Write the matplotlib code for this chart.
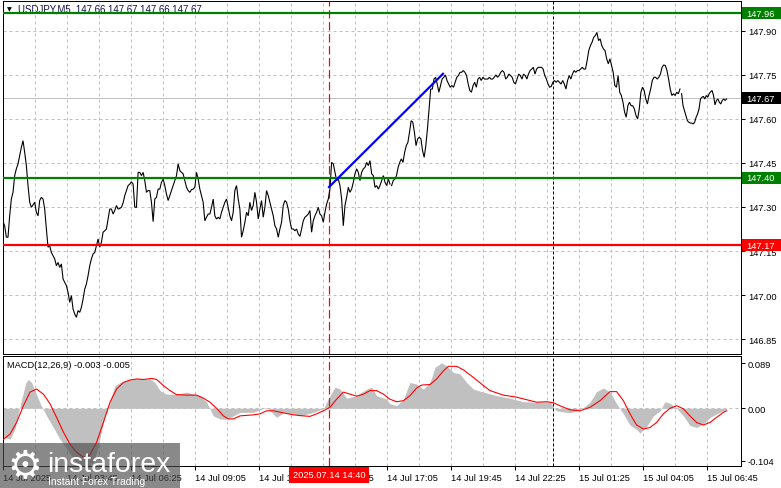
import numpy as np
import matplotlib
matplotlib.use("Agg")
import matplotlib.pyplot as plt
import matplotlib.transforms as mtransforms
from matplotlib.patches import Rectangle

plt.rcParams['font.family'] = ['Liberation Sans', 'DejaVu Sans']

# --- donnees ---
chart_title = "USDJPY,M5  147.66 147.67 147.66 147.67"
macd_title = "MACD(12,26,9) -0.003 -0.005"

# cours de cloture M5, en trois morceaux
close_part1 = [
    147.250, 147.236, 147.197, 147.197, 147.270, 147.327, 147.350, 147.407, 147.430, 147.447,
    147.475, 147.503, 147.526, 147.486, 147.441, 147.373, 147.316, 147.299, 147.307, 147.316,
    147.282, 147.270, 147.322, 147.333, 147.327, 147.293, 147.225, 147.163, 147.168, 147.145,
    147.134, 147.123, 147.100, 147.111, 147.094, 147.106, 147.055, 147.043, 147.032, 147.009,
    146.975, 146.998, 146.952, 146.935, 146.924, 146.947, 146.941, 146.958, 146.986, 147.020,
    147.038, 147.066, 147.100, 147.123, 147.140, 147.145, 147.168, 147.191, 147.163, 147.180,
    147.214, 147.219, 147.225, 147.259, 147.293, 147.293, 147.276, 147.288, 147.305, 147.293,
    147.295, 147.299, 147.314, 147.339, 147.356, 147.373, 147.378, 147.386, 147.378, 147.299,
    147.299, 147.418, 147.418, 147.407, 147.418, 147.390, 147.350, 147.356, 147.356, 147.316,
    147.250, 147.327, 147.333, 147.361, 147.361, 147.384, 147.395, 147.373, 147.344, 147.322,
    147.339, 147.356, 147.373, 147.390, 147.407, 147.447, 147.424, 147.418, 147.413, 147.390,
    147.367, 147.356, 147.350, 147.359, 147.361, 147.367, 147.418, 147.395, 147.361, 147.339,
    147.316, 147.253, 147.265, 147.276, 147.276, 147.299, 147.327, 147.270, 147.259, 147.265,
    147.259, 147.282, 147.299, 147.316, 147.327, 147.299, 147.270, 147.253, 147.282, 147.356,
    147.373, 147.327, 147.293, 147.197, 147.219, 147.248, 147.282, 147.270, 147.316, 147.288,
    147.305, 147.350, 147.316, 147.259, 147.293, 147.322, 147.265, 147.299, 147.356, 147.339,
    147.316, 147.293, 147.270, 147.236, 147.225, 147.197, 147.225, 147.248, 147.305, 147.322,
    147.316, 147.293, 147.253, 147.225, 147.225, 147.219, 147.225, 147.208, 147.200, 147.225,
    147.253, 147.265, 147.270, 147.276, 147.288, 147.214, 147.253, 147.270, 147.282, 147.299,
    147.276, 147.270, 147.248, 147.282, 147.310, 147.327, 147.361, 147.452, 147.447, 147.418,
    147.390, 147.395, 147.373, 147.327, 147.236, 147.305, 147.333, 147.367, 147.350, 147.361,
    147.384, 147.413, 147.430, 147.418, 147.390, 147.418, 147.430, 147.435, 147.452, 147.441,
    147.458, 147.413, 147.407, 147.367, 147.373, 147.361, 147.373, 147.390, 147.407, 147.384,
    147.373, 147.395, 147.378,
]
close_part2 = [
    147.373, 147.390, 147.395, 147.407, 147.435, 147.452, 147.464, 147.452, 147.486, 147.509,
    147.520, 147.555, 147.594, 147.589, 147.555, 147.509, 147.532, 147.538, 147.532, 147.492,
    147.469, 147.509, 147.566, 147.634, 147.702, 147.702, 147.736, 147.742, 147.719, 147.691,
    147.714, 147.736, 147.742, 147.750, 147.731, 147.719, 147.708, 147.714, 147.708, 147.725,
    147.742, 147.748, 147.759, 147.759, 147.765, 147.759, 147.748, 147.719, 147.697, 147.691,
    147.714, 147.725, 147.708, 147.736, 147.742, 147.731, 147.742, 147.736, 147.736, 147.736,
    147.742, 147.736, 147.736, 147.742, 147.750, 147.742, 147.748, 147.759, 147.765, 147.759,
    147.736, 147.742, 147.753, 147.748, 147.742, 147.725, 147.719, 147.736, 147.753, 147.748,
    147.736, 147.753, 147.748, 147.736, 147.753, 147.765, 147.770, 147.776, 147.753, 147.770,
    147.776, 147.776, 147.776, 147.770, 147.748, 147.736, 147.719, 147.708, 147.711, 147.725,
    147.731, 147.725, 147.731, 147.725, 147.719, 147.731, 147.719, 147.702, 147.731, 147.748,
    147.736, 147.753, 147.765, 147.759, 147.765, 147.765, 147.770, 147.776, 147.770, 147.770,
    147.799, 147.833, 147.850, 147.861, 147.878, 147.884, 147.895, 147.867, 147.873, 147.850,
    147.839, 147.833, 147.805, 147.788, 147.805, 147.782, 147.759, 147.714, 147.708, 147.748,
    147.691, 147.680, 147.657, 147.623, 147.606, 147.645, 147.657, 147.645, 147.645, 147.634,
    147.611, 147.600, 147.634, 147.691, 147.708, 147.697, 147.668, 147.651, 147.680, 147.702,
    147.731, 147.742, 147.742, 147.736, 147.742, 147.753, 147.776, 147.784, 147.782, 147.765,
    147.736, 147.702, 147.680, 147.686, 147.680, 147.691, 147.686, 147.702,
]
close_part3 = [
    147.686, 147.645, 147.628, 147.611, 147.594, 147.589, 147.586, 147.586, 147.583, 147.589,
    147.606, 147.617, 147.634, 147.668, 147.674, 147.677, 147.668, 147.680, 147.674, 147.686,
    147.693, 147.697, 147.680, 147.648, 147.663, 147.668, 147.657, 147.651, 147.663, 147.668,
    147.663, 147.668,
]
part_bars = [(0.0, 193.5), (194.3, 338.5), (339.3, 361.8)]

level_prices = [147.96, 147.40, 147.17]
level_colors = ['#008000', '#008000', '#ff0000']
last_price = 147.67

trend_bars = [163, 220]
trend_prices = [147.368, 147.754]
entry_bar = 163
entry_label = "2025.07.14 14:40"
session_bar = 275

price_ticks = [146.85, 147.00, 147.15, 147.30, 147.45, 147.60, 147.75, 147.90]
time_bars = [0, 32, 64, 96, 128, 160, 192, 224, 256, 288, 320, 352]
time_labels = ["14 Jul 2025", "14 Jul 03:45", "14 Jul 06:25", "14 Jul 09:05",
               "14 Jul 11:45", "14 Jul 14:25", "14 Jul 17:05", "14 Jul 19:45",
               "14 Jul 22:25", "15 Jul 01:25", "15 Jul 04:05", "15 Jul 06:45"]

hist_bars = [0, 3.5, 6, 7.7, 9.3, 11.5, 12.7, 14.3, 16, 17.7, 19.3, 21.8, 25.2, 28.5, 31.8,
             35.2, 38.5, 41.8, 45.2, 47.7, 49.3, 51, 52.7, 54.3, 56, 58.5, 61.8, 65.2, 68.5,
             73.5, 76, 78.5, 81.8, 86.8, 91.8, 98.5, 101.8, 105.2, 108.5, 111.8, 115.2, 118.5,
             125.2, 131.8, 136.8, 140.2, 145.2, 148.5, 155.2, 160.2, 163.5, 166, 168.5, 171.8,
             176.8, 181.8, 184.3, 186.8, 191.8, 193.5, 196.8, 200.2, 203.5, 206.8, 210.2,
             213.5, 216, 219.3, 221.8, 225.2, 228.5, 231.8, 235.2, 240.2, 246.8, 253.5, 260.2,
             266.8, 273.5, 275.2, 276.8, 280.2, 283.5, 286.8, 290.2, 293.5, 296.8, 300.2,
             303.5, 306.8, 310.2, 313.5, 316.8, 318.5, 321.8, 325.2, 328.5, 331, 333.5, 336.8,
             340.2, 343.5, 346.8, 350.2, 353.5, 356.8, 360.2, 361.8]
hist_values = [-0.057, -0.061, -0.041, -0.011, 0.018, 0.051, 0.057, 0.051, 0.035, 0.018,
               0.004, -0.015, -0.038, -0.061, -0.080, -0.100, -0.113, -0.117, -0.107, -0.074,
               -0.044, -0.015, 0.0, 0.025, 0.045, 0.051, 0.055, 0.058, 0.059, 0.058, 0.051,
               0.035, 0.028, 0.028, 0.032, 0.025, 0.012, -0.015, -0.021, -0.022, -0.015,
               -0.008, -0.008, 0.002, -0.018, -0.009, -0.011, -0.015, -0.008, -0.001, 0.025,
               0.042, 0.038, 0.020, 0.025, 0.038, 0.042, 0.025, 0.018, 0.009, 0.005, 0.018,
               0.051, 0.048, 0.038, 0.051, 0.081, 0.090, 0.084, 0.071, 0.068, 0.051, 0.038,
               0.032, 0.025, 0.020, 0.013, 0.012, 0.013, 0.002, -0.005, -0.007, -0.009,
               -0.005, 0.002, 0.012, 0.033, 0.040, 0.032, 0.009, -0.011, -0.033, -0.042,
               -0.049, -0.036, -0.015, -0.005, 0.013, 0.010, 0.0, -0.015, -0.034, -0.038,
               -0.031, -0.018, -0.011, -0.005, -0.003]

sig_bars = [0, 3.5, 6.8, 10.2, 13.5, 16.8, 20.2, 23.5, 26.8, 30.2, 33.5, 36.8, 40.2, 43.5,
            46.8, 50.2, 53.5, 56.8, 60.2, 63.5, 66.8, 70.2, 74.3, 76.8, 80.2, 83.5, 86.8,
            91.8, 96.8, 100.2, 103.5, 106.8, 110.2, 112.7, 115.2, 118.5, 125.2, 128.5, 131.8,
            135.2, 140.2, 145.2, 150.2, 153.5, 156.8, 160.2, 163.5, 166.8, 170.2, 173.5,
            176.8, 180.2, 183.5, 186.8, 190.2, 193.5, 196.8, 200.2, 203.5, 206.8, 209.3,
            213.5, 216.8, 220.2, 222.7, 226.8, 230.2, 235.2, 240.2, 243.5, 250.2, 256.8,
            261.8, 266.8, 271.8, 275.2, 278.5, 283.5, 288.5, 293.5, 298.5, 303.5, 306.8,
            310.2, 313.5, 316.8, 320.2, 323.5, 326.8, 330.2, 333.5, 336.8, 340.2, 343.5,
            346.8, 350.2, 353.5, 356.8, 360.2, 361.8]
sig_values = [-0.062, -0.051, -0.028, 0.005, 0.032, 0.038, 0.028, 0.009, -0.018, -0.047,
              -0.071, -0.087, -0.097, -0.092, -0.067, -0.028, 0.012, 0.038, 0.051, 0.056,
              0.058, 0.057, 0.059, 0.057, 0.045, 0.035, 0.027, 0.026, 0.026, 0.020, 0.012,
              0.0, -0.015, -0.021, -0.021, -0.015, -0.013, -0.011, -0.005, -0.005, -0.009,
              -0.013, -0.015, -0.016, -0.011, -0.005, 0.002, 0.018, 0.032, 0.028, 0.024,
              0.028, 0.035, 0.035, 0.028, 0.018, 0.013, 0.015, 0.025, 0.040, 0.046, 0.047,
              0.058, 0.074, 0.083, 0.083, 0.076, 0.061, 0.045, 0.035, 0.026, 0.022, 0.017,
              0.012, 0.013, 0.011, 0.005, -0.003, -0.005, 0.002, 0.015, 0.033, 0.033, 0.015,
              -0.011, -0.033, -0.041, -0.038, -0.028, -0.011, 0.0, 0.005, -0.001, -0.015,
              -0.028, -0.033, -0.028, -0.018, -0.008, -0.005]

macd_ticks = [0.089, 0.0, -0.104]
macd_tick_labels = ["0.089", "0.00", "-0.104"]


def px(n):
    # pixels -> points (dpi 100)
    return n * 0.72


def main():
    W, H = 781, 489
    fig = plt.figure(figsize=(W / 100, H / 100), dpi=100)
    left, right = 3, 741
    ax = fig.add_axes([left / W, (H - 355) / H, (right - left) / W, 353 / H])
    ax2 = fig.add_axes([left / W, (H - 467) / H, (right - left) / W, 110 / H])

    grid_kw = dict(color='#c0c0c0', lw=px(1), ls=(0, (3, 3)))
    fs = 6.7

    # ---- panneau des prix ----
    ax.set_xlim(0, 369)
    ax.set_ylim(146.799, 148.002)
    ax.set_axisbelow(True)
    for b in range(16, 360, 16):
        ax.axvline(b, zorder=0, **grid_kw)
    for p in price_ticks:
        ax.axhline(p, zorder=0, **grid_kw)
    ax.axhline(last_price, color='#c0c0c0', lw=px(1), zorder=1)

    for part, (b0, b1) in zip([close_part1, close_part2, close_part3], part_bars):
        xs = np.linspace(b0, b1, len(part))
        ax.plot(xs, part, color='black', lw=px(1.1), zorder=3, solid_joinstyle='miter')

    for lvl, col in zip(level_prices, level_colors):
        ax.axhline(lvl, color=col, lw=px(2.2), zorder=4)
    ax.plot(trend_bars, trend_prices, color='#0000ff', lw=px(2.2), zorder=5)
    ax.axvline(entry_bar, color='#ff0000', lw=px(1.2), ls=(0, (7, 3)), zorder=2)
    ax.axvline(session_bar, color='black', lw=px(1), ls=(0, (3, 2)), zorder=2)

    ax.yaxis.tick_right()
    ax.set_yticks(price_ticks)
    ax.set_yticklabels([f"{p:.2f}" for p in price_ticks])
    ax.tick_params(axis='y', length=3, width=px(1), labelsize=fs, pad=2)
    ax.set_xticks([])
    for s in ax.spines.values():
        s.set_linewidth(px(1))

    # etiquettes de niveaux sur l'axe de droite (boites jusqu'au bord)
    trans = mtransforms.blended_transform_factory(ax.transAxes, ax.transData)
    span = right - left
    box_h = 12 / 293.3
    for lvl, col in zip(level_prices + [last_price], level_colors + ['black']):
        ax.add_patch(Rectangle((1 + 1 / span, lvl - box_h / 2), 39 / span, box_h,
                               transform=trans, fc=col, ec='none', clip_on=False, zorder=6))
        ax.text(1 + 5 / span, lvl, f"{lvl:.2f}", transform=trans, color='white', fontsize=fs,
                va='center', ha='left', clip_on=False, zorder=7)

    ax.text(4 / 738, 1 - 8 / 353, "\u25bc", transform=ax.transAxes, fontsize=4.5,
            va='center', ha='left', family=['DejaVu Sans'])
    ax.text(15 / 738, 1 - 8 / 353, chart_title, transform=ax.transAxes, fontsize=fs + 0.2,
            va='center', ha='left', color='#10104a')

    # ---- panneau MACD ----
    ax2.set_xlim(0, 369)
    ax2.set_ylim(-0.1141, 0.1034)
    for b in range(16, 360, 16):
        ax2.axvline(b, zorder=0, **grid_kw)
    ax2.axhline(0, zorder=0, **grid_kw)
    ax2.fill_between(hist_bars, 0, hist_values, color='#c0c0c0', lw=0, zorder=1)
    ax2.plot(sig_bars, sig_values, color='#ff0000', lw=px(1.1), zorder=3)
    ax2.axvline(entry_bar, color='#ff0000', lw=px(1.2), ls=(0, (7, 3)), zorder=2)
    ax2.axvline(session_bar, color='black', lw=px(1), ls=(0, (3, 2)), zorder=2)

    ax2.yaxis.tick_right()
    ax2.set_yticks(macd_ticks)
    ax2.set_yticklabels(macd_tick_labels)
    ax2.set_xticks(time_bars)
    ax2.set_xticklabels(time_labels)
    for lab in ax2.get_xticklabels():
        lab.set_ha('left')
    ax2.tick_params(axis='both', length=3, width=px(1), labelsize=fs, pad=2)
    for s in ax2.spines.values():
        s.set_linewidth(px(1))
    ax2.text(4 / 738, 1 - 9 / 110, macd_title, transform=ax2.transAxes, fontsize=fs,
             va='center', ha='left', color='black')

    trans2 = mtransforms.blended_transform_factory(ax2.transData, ax2.transAxes)
    ax2.text(entry_bar, -9 / 110, entry_label, transform=trans2, color='white', fontsize=fs,
             va='center', ha='center', clip_on=False, zorder=6,
             bbox=dict(boxstyle='square,pad=0.35', fc='#ff0000', ec='none'))

    # ---- filigrane instaforex ----
    fig.patches.append(Rectangle((0, 0), 180 / W, 45 / H, transform=fig.transFigure,
                                 fc='#4a4a4a', ec='none', alpha=0.65, zorder=10))
    fig.text(7 / W, 22 / H, "\u2699", color='white', fontsize=28, va='center', ha='left',
             family=['DejaVu Sans'], zorder=11)
    fig.text(47 / W, 17 / H, "instaforex", color='white', fontsize=20.5, va='baseline',
             ha='left', zorder=11)
    fig.text(48 / W, 4 / H, "Instant Forex Trading", color='white', fontsize=7.4,
             va='baseline', ha='left', zorder=11)

    fig.savefig("out.png", dpi=100)


if __name__ == "__main__":
    main()
